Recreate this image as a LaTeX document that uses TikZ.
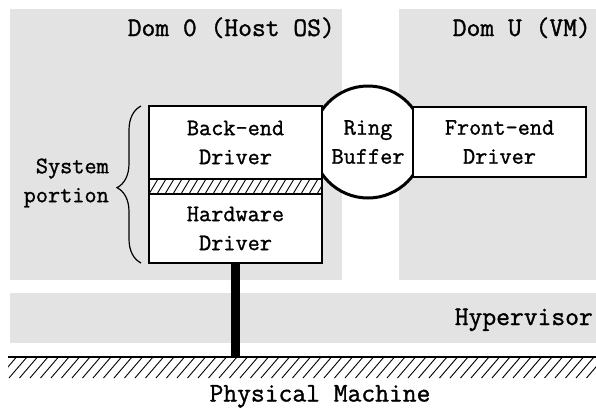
\documentclass[tikz,border=0pt]{standalone}
\usepackage{fontspec}
\newfontfamily\mymonofam[FakeBold=1.2]{Latin Modern Mono}
\usetikzlibrary{decorations.pathreplacing}
\definecolor{bggray}{HTML}{E3E3E3}
\newcommand\mydrvfont{\mymonofam\fontsize{23.6}{29}\selectfont}
\newcommand\mytitlefont{\mymonofam\fontsize{26.8}{28}\selectfont}
\tikzset{
  region/.style={fill=bggray, draw=none, inner sep=0pt, outer sep=0pt},
  drvbox/.style={draw, line width=2.2pt, fill=white, minimum width=173pt,
                 align=center, font=\mydrvfont, inner sep=0pt},
  titletext/.style={font=\mytitlefont, inner sep=0pt},
  sidetext/.style={font=\mydrvfont, align=right, inner sep=0pt},
  hatchline/.style={line width=0.9pt},
}
\begin{document}
\begin{tikzpicture}[x=1pt, y=-1pt]
\useasboundingbox (0,0) rectangle (596,407);
% regions
\node[region, minimum width=332pt, minimum height=271pt] (dom0) at (176,144.5) {};
\node[region, minimum width=197pt, minimum height=271pt] (domu) at (497.5,144.5) {};
\node[region, minimum width=586pt, minimum height=50pt] (hyp) at (303,318) {};
\node[titletext, anchor=base east] (dom0t) at (335,36) {Dom 0 (Host OS)};
\node[titletext, anchor=base east] (domut) at (591,36) {Dom U (VM)};
\node[titletext, anchor=base east] (hypt) at (593,325) {Hypervisor};
% ground
\coordinate (gw) at (8,357);
\coordinate (ge) at (596,357);
\begin{scope}
  \clip (8,357) rectangle (596,378);
  \foreach \i in {0,...,58}
    \draw[hatchline] (-12+\i*10.5,378) -- ++(18pt,21pt);
\end{scope}
\draw[line width=1.5pt] (gw) -- (ge);
\node[titletext, anchor=base] (pm) at (320,401.5) {Physical Machine};
% ring buffer
\node[draw, circle, line width=3pt, fill=white, minimum size=112pt,
      inner sep=0pt, align=center, font=\mydrvfont] (ring) at (368,142) {Ring\\Buffer};
% drivers
\node[drvbox, minimum height=73pt] (be) at (235.5,142.5) {Back-end\\Driver};
\node[drvbox, minimum height=69pt] (hw) at (235.5,228.5) {Hardware\\Driver};
\node[drvbox, minimum height=15pt,
      path picture={\foreach \i in {0,...,24}
        \draw[hatchline] (path picture bounding box.south west) ++(\i*8pt-16pt,0pt) -- ++(9pt,15pt);}]
      (strip) at (235.5,186.5) {};
\node[drvbox, minimum height=70pt] (fe) at (499.5,142) {Front-end\\Driver};
% link to machine
\draw[line width=9pt] (hw.south) -- (hw.south |- gw);
% brace
\draw[line width=1.2pt, decorate, decoration={brace, amplitude=24pt, aspect=0.48}]
  (141,263) -- (141,106) coordinate (bracetop);
\node[sidetext, anchor=east] (sys) at (109,183) {System\\portion};
\end{tikzpicture}
\end{document}
